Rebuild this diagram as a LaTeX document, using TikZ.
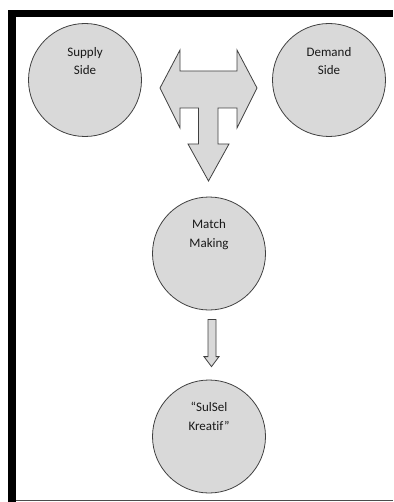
\documentclass[tikz,border=0pt]{standalone}
\usepackage{fontspec}
\setmainfont{Carlito}[Ligatures=NoCommon]
\usetikzlibrary{positioning, calc}
\definecolor{bubblegray}{HTML}{D9D9D9}
\definecolor{edgegray}{HTML}{404040}

\begin{document}
\begin{tikzpicture}[x=1pt, y=-1pt,
  bubble/.style={circle, draw=edgegray, fill=bubblegray, line width=0.8pt, minimum size=113pt, inner sep=0pt},
  caption/.style={align=center, font=\fontsize{13}{18.5}\selectfont, text=black!90, inner sep=0pt},
  blockarrow/.style={draw=edgegray, fill=bubblegray, line width=0.8pt, line join=miter}]
  \useasboundingbox (0,0) rectangle (393,502);
  % frame
  \fill[black] (8,10) rectangle (393,17);
  \fill[black] (8,10) rectangle (16,502);
  \draw[black!70, line width=1pt] (16,500) -- (393,500);
  % circles
  \node[bubble] (supply) at (85,80) {};
  \node[bubble] (demand) at (329,80) {};
  \node[bubble] (match) at (209,253.5) {};
  \node[bubble] (sulsel) at (209,436.5) {};
  \node[caption] (supplytxt) at ($(supply.north)+(0,38)$) {Supply\\Side};
  \node[caption] (demandtxt) at ($(demand.north)+(0,38)$) {Demand\\Side};
  \node[caption] (matchtxt) at ($(match.north)+(0,38)$) {Match\\Making};
  \node[caption] (sulseltxt) at ($(sulsel.north)+(0,37)$) {“SulSel\\Kreatif”};
  % T-shaped arrow between the two sides
  \draw[blockarrow] (160,88) -- (180,50) -- (180,71) -- (237,71) -- (237,50)
    -- (257,88) -- (237,128) -- (237,108) -- (218,108) -- (218,144)
    -- (229,144) -- (208.5,181) -- (188,144) -- (198.5,144) -- (198.5,108)
    -- (180,108) -- (180,128) -- cycle;
  % arrow down to SulSel Kreatif
  \draw[blockarrow] ($(match.south)+(-1,9)$) -- ($(match.south)+(7,9)$)
    -- ($(sulsel.north)+(7,-23)$) -- ($(sulsel.north)+(10,-23)$)
    -- ($(sulsel.north)+(2.5,-13)$) -- ($(sulsel.north)+(-5,-23)$)
    -- ($(sulsel.north)+(-1,-23)$) -- cycle;
\end{tikzpicture}
\end{document}
